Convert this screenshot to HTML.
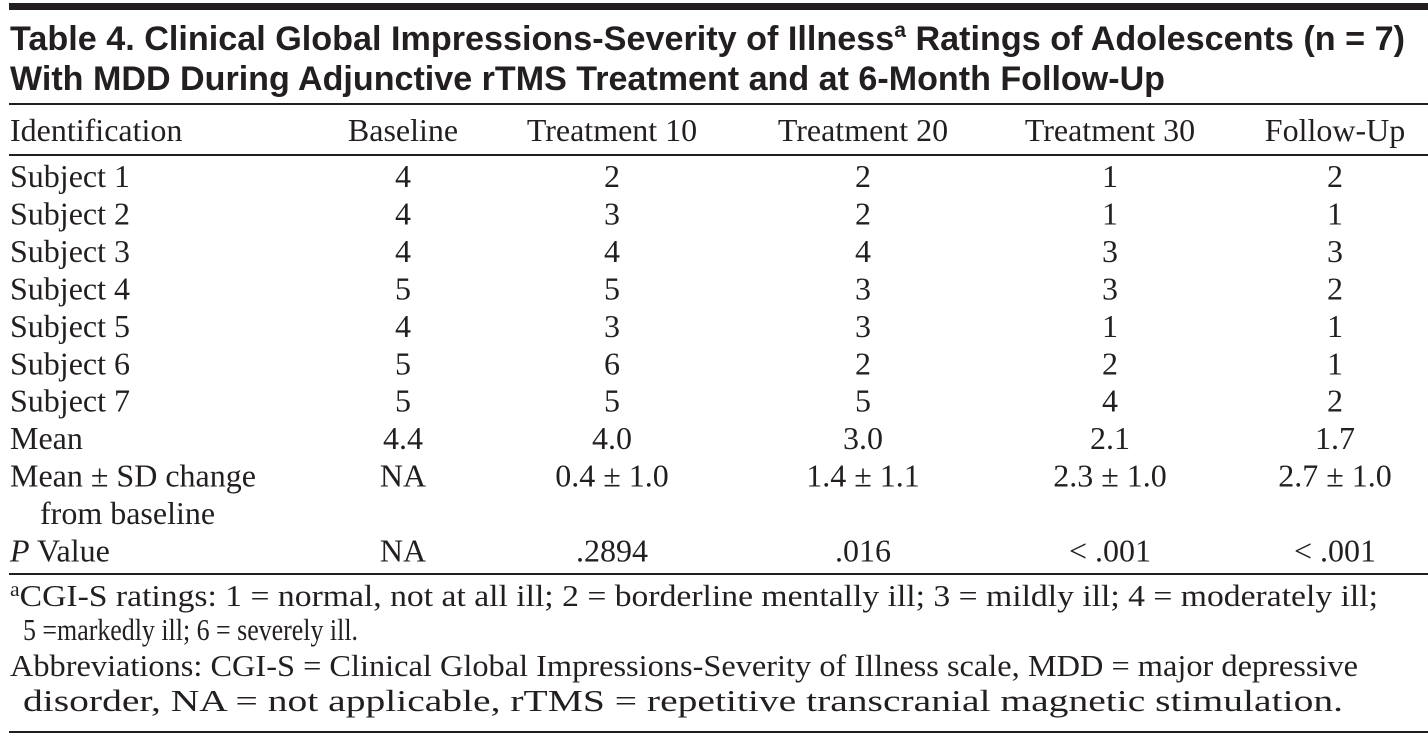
<!DOCTYPE html>
<html><head><meta charset="utf-8"><style>
html,body{margin:0;padding:0;background:#fff;width:1428px;height:736px;overflow:hidden}
svg text{fill:#231f20}
.s{font-family:"Liberation Serif",serif;font-size:32px}
.t{font-family:"Liberation Sans",sans-serif;font-weight:bold;font-size:34px}
.f{font-family:"Liberation Serif",serif;font-size:31px}
</style></head><body>
<svg width="1428" height="736" xmlns="http://www.w3.org/2000/svg">
<rect x="9" y="3" width="1419" height="7" fill="#231f20"/>
<text class="t" x="10" y="50" textLength="1395" lengthAdjust="spacingAndGlyphs">Table 4. Clinical Global Impressions-Severity of Illness<tspan font-size="21" dy="-13">a</tspan><tspan dy="13"> Ratings of Adolescents (n = 7)</tspan></text>
<text class="t" x="10" y="90" textLength="1155" lengthAdjust="spacingAndGlyphs">With MDD During Adjunctive rTMS Treatment and at 6-Month Follow-Up</text>
<rect x="9" y="103" width="1419" height="2" fill="#231f20"/>
<g id="hdr"></g>
<rect x="9" y="154" width="1419" height="2" fill="#231f20"/>
<g id="body"></g>
<rect x="9" y="573" width="1419" height="2" fill="#231f20"/>
<text class="f" x="10" y="606" textLength="1368" lengthAdjust="spacingAndGlyphs"><tspan font-size="20" dy="-10">a</tspan><tspan dy="10">CGI-S ratings: 1 = normal, not at all ill; 2 = borderline mentally ill; 3 = mildly ill; 4 = moderately ill;</tspan></text>
<text class="f" x="23" y="640" font-size="29" textLength="335" lengthAdjust="spacingAndGlyphs">5 =markedly ill; 6 = severely ill.</text>
<text class="f" x="10" y="676" textLength="1348" lengthAdjust="spacingAndGlyphs">Abbreviations: CGI-S = Clinical Global Impressions-Severity of Illness scale, MDD = major depressive</text>
<text class="f" x="23" y="711" textLength="1320" lengthAdjust="spacingAndGlyphs">disorder, NA = not applicable, rTMS = repetitive transcranial magnetic stimulation.</text>
<rect x="9" y="731" width="1419" height="2" fill="#231f20"/>
</svg>
<script>
const columns=["Baseline","Treatment 10","Treatment 20","Treatment 30","Follow-Up"];
const colX=[403,612,863,1110,1335];
const rowLabels=["Subject 1","Subject 2","Subject 3","Subject 4","Subject 5","Subject 6","Subject 7","Mean","Mean ± SD change","P Value"];
const baseline=["4","4","4","5","4","5","5","4.4","NA","NA"];
const t10=["2","3","4","5","3","6","5","4.0","0.4 ± 1.0",".2894"];
const t20=["2","2","4","3","3","2","5","3.0","1.4 ± 1.1",".016"];
const t30=["1","1","3","3","1","2","4","2.1","2.3 ± 1.0","< .001"];
const fu=["2","1","3","2","1","1","2","1.7","2.7 ± 1.0","< .001"];
const NS="http://www.w3.org/2000/svg";
function txt(parent,x,y,s,anchor){const t=document.createElementNS(NS,"text");t.setAttribute("class","s");t.setAttribute("x",x);t.setAttribute("y",y);if(anchor)t.setAttribute("text-anchor",anchor);t.textContent=s;parent.appendChild(t);return t;}
const hdr=document.getElementById("hdr");
let h=txt(hdr,10,141,"Identification");


columns.forEach((c,i)=>{const e=txt(hdr,colX[i],141,c,"middle");

});
const body=document.getElementById("body");
const series=[baseline,t10,t20,t30,fu];
const ys=[];
for(let r=0;r<rowLabels.length;r++){ys.push(187+37.45*(r<9?r:10));}
rowLabels.forEach((lab,r)=>{
 let e;
 if(lab==="P Value"){e=txt(body,10,ys[r],"");const a=document.createElementNS(NS,"tspan");a.setAttribute("font-style","italic");a.textContent="P";e.appendChild(a);e.appendChild(document.createTextNode(" Value"));}
 else e=txt(body,10,ys[r],lab);
 
 
 if(lab==="Mean ± SD change"){const e2=txt(body,40,ys[r]+37.45,"from baseline");
 
 }
 series.forEach((s,c)=>{const v=txt(body,colX[c],ys[r],s[r],"middle");
 
 });
});
</script>
</body></html>
